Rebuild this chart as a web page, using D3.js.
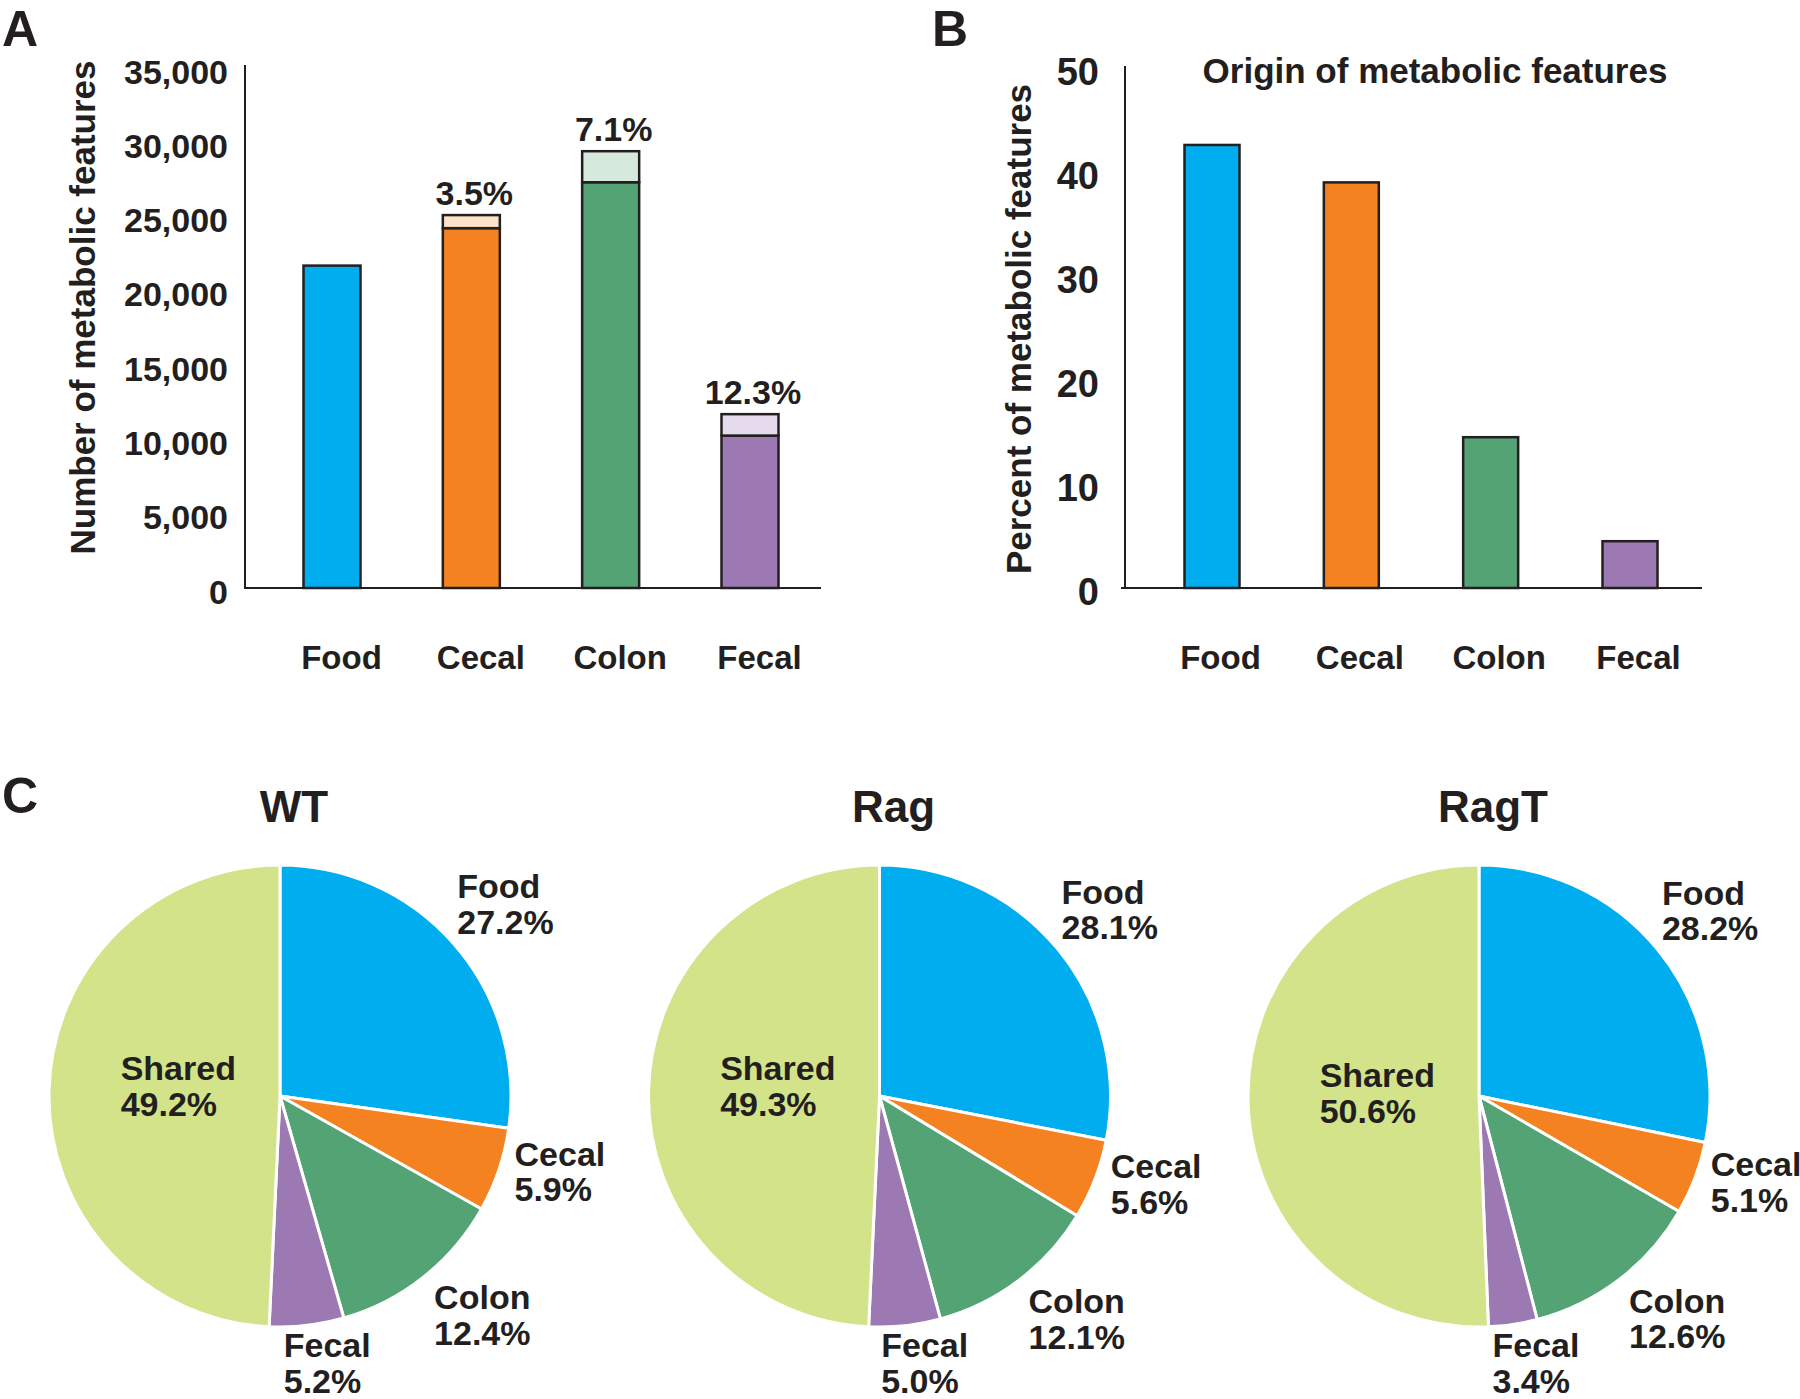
<!DOCTYPE html>
<html>
<head>
<meta charset="utf-8">
<script src="https://cdn.jsdelivr.net/npm/d3@7"></script>
<style>
  html, body { margin: 0; padding: 0; background: #fff; }
  svg { display: block; }
  text { font-family: "Liberation Sans", Arial, Helvetica, sans-serif; font-weight: bold; fill: #231f20; }
</style>
</head>
<body>
<svg id="chart" width="1800" height="1399"></svg>
<script>
// ---------------- DATA ----------------
const categories = ["Food", "Cecal", "Colon", "Fecal"];
// Panel A: number of metabolic features (lower solid part + light upper part)
const baseCounts = [21700, 24220, 27310, 10260];
const topCounts = [0, 880, 2090, 1440];
const topPctLabels = ["", "3.5%", "7.1%", "12.3%"];
const yTicksA = [0, 5000, 10000, 15000, 20000, 25000, 30000, 35000];

// Panel B: percent of metabolic features by origin
const originPct = [42.6, 39.0, 14.5, 4.5];
const yTicksB = [0, 10, 20, 30, 40, 50];

// Panel C: pies
const pieGroups = ["WT", "Rag", "RagT"];
const pieCategories = ["Food", "Cecal", "Colon", "Fecal", "Shared"];
const wtPct = [27.2, 5.9, 12.4, 5.2, 49.2];
const ragPct = [28.1, 5.6, 12.1, 5.0, 49.3];
const ragTPct = [28.2, 5.1, 12.6, 3.4, 50.6];

// ---------------- STYLE ----------------
const solidColors = {Food: "#00aeef", Cecal: "#f58220", Colon: "#54a375", Fecal: "#9d79b4", Shared: "#d3e38a"};
const lightColors = {Food: "#c8ecfb", Cecal: "#fde1c8", Colon: "#d5e9dc", Fecal: "#e6dbed"};
const ink = "#231f20";
const FONT = '"Liberation Sans", Arial, sans-serif';

const svg = d3.select("#chart");
svg.append("rect").attr("width", 1800).attr("height", 1399).attr("fill", "#fff");

// panel letters
[["A", 2, 46], ["B", 932, 46], ["C", 2, 813]].forEach(([t, x, y]) => {
  svg.append("text").attr("x", x).attr("y", y).attr("font-size", 50).text(t);
});

function styleTicks(sel, size, shift) {
  sel.selectAll("text").attr("font-size", size).attr("fill", ink)
    .attr("font-family", FONT).attr("font-weight", "bold")
    .attr("dy", null).attr("dominant-baseline", "central")
    .attr("transform", `translate(0,${shift})`);
}

// ---------------- PANEL A ----------------
(function () {
  const axisX = 245, baseY = 588, topY = 68, endX = 821;
  const y = d3.scaleLinear().domain([0, 35000]).range([baseY, topY]);
  const x = d3.scalePoint().domain(categories).range([332, 750]);
  const bw = 57;
  const g = svg.append("g");

  const yAxis = d3.axisLeft(y).tickValues(yTicksA).tickSize(0).tickPadding(17)
    .tickFormat(d3.format(","));
  const ya = g.append("g").attr("transform", `translate(${axisX},0)`).call(yAxis);
  ya.select(".domain").remove();
  styleTicks(ya, 34, 3);

  g.append("line").attr("x1", axisX).attr("x2", axisX).attr("y1", 65).attr("y2", baseY)
    .attr("stroke", ink).attr("stroke-width", 2);
  g.append("line").attr("x1", axisX - 1).attr("x2", endX).attr("y1", baseY).attr("y2", baseY)
    .attr("stroke", ink).attr("stroke-width", 2);

  const xAxis = d3.axisBottom(x).tickSize(0).tickPadding(58);
  const xa = g.append("g").attr("transform", `translate(9,${baseY})`).call(xAxis);
  xa.select(".domain").remove();
  xa.selectAll("text").attr("font-size", 33).attr("fill", ink)
    .attr("font-family", FONT).attr("font-weight", "bold");

  const data = categories.map((c, i) => ({c, base: baseCounts[i], top: topCounts[i], lab: topPctLabels[i]}));
  g.selectAll("rect.base").data(data).join("rect").attr("class", "base")
    .attr("x", d => x(d.c) - bw / 2).attr("width", bw)
    .attr("y", d => y(d.base)).attr("height", d => y(0) - y(d.base))
    .attr("fill", d => solidColors[d.c]).attr("stroke", ink).attr("stroke-width", 2.5);
  g.selectAll("rect.top").data(data.filter(d => d.top > 0)).join("rect").attr("class", "top")
    .attr("x", d => x(d.c) - bw / 2).attr("width", bw)
    .attr("y", d => y(d.base + d.top)).attr("height", d => y(d.base) - y(d.base + d.top))
    .attr("fill", d => lightColors[d.c]).attr("stroke", ink).attr("stroke-width", 2.5);
  g.selectAll("text.pct").data(data.filter(d => d.lab)).join("text").attr("class", "pct")
    .attr("x", d => x(d.c) + 3).attr("y", d => y(d.base + d.top) - 10)
    .attr("text-anchor", "middle").attr("font-size", 34).text(d => d.lab);

  g.append("text").attr("transform", `translate(95,${(65 + baseY) / 2 - 19}) rotate(-90)`)
    .attr("text-anchor", "middle").attr("font-size", 35).text("Number of metabolic features");
})();

// ---------------- PANEL B ----------------
(function () {
  const axisX = 1125, baseY = 588, topY = 68, endX = 1702;
  const y = d3.scaleLinear().domain([0, 50]).range([baseY, topY]);
  const x = d3.scalePoint().domain(categories).range([1212, 1630]);
  const bw = 55;
  const g = svg.append("g");

  const yAxis = d3.axisLeft(y).tickValues(yTicksB).tickSize(0).tickPadding(26);
  const ya = g.append("g").attr("transform", `translate(${axisX},0)`).call(yAxis);
  ya.select(".domain").remove();
  styleTicks(ya, 38, 3);

  g.append("line").attr("x1", axisX).attr("x2", axisX).attr("y1", 66).attr("y2", baseY)
    .attr("stroke", ink).attr("stroke-width", 2);
  g.append("line").attr("x1", axisX - 4).attr("x2", endX).attr("y1", baseY).attr("y2", baseY)
    .attr("stroke", ink).attr("stroke-width", 2);

  const xAxis = d3.axisBottom(x).tickSize(0).tickPadding(58);
  const xa = g.append("g").attr("transform", `translate(8,${baseY})`).call(xAxis);
  xa.select(".domain").remove();
  xa.selectAll("text").attr("font-size", 33).attr("fill", ink)
    .attr("font-family", FONT).attr("font-weight", "bold");

  const data = categories.map((c, i) => ({c, v: originPct[i]}));
  g.selectAll("rect.bar").data(data).join("rect").attr("class", "bar")
    .attr("x", d => x(d.c) - bw / 2).attr("width", bw)
    .attr("y", d => y(d.v)).attr("height", d => y(0) - y(d.v))
    .attr("fill", d => solidColors[d.c]).attr("stroke", ink).attr("stroke-width", 2.5);

  g.append("text").attr("x", 1435).attr("y", 83).attr("text-anchor", "middle")
    .attr("font-size", 35).text("Origin of metabolic features");

  g.append("text").attr("transform", `translate(1031,${(66 + baseY) / 2 + 2}) rotate(-90)`)
    .attr("text-anchor", "middle").attr("font-size", 35).text("Percent of metabolic features");
})();

// ---------------- PANEL C ----------------
(function () {
  const groupValues = {WT: wtPct, Rag: ragPct, RagT: ragTPct};
  const cxScale = d3.scalePoint().domain(pieGroups).range([280, 1479]);
  const cy = 1096, r = 231;
  const pie = d3.pie().sort(null).value(d => d.v);
  const arc = d3.arc().innerRadius(0).outerRadius(r);
  const lineGap = 35.6;

  pieGroups.forEach(gname => {
    const cx = cxScale(gname);
    const g = svg.append("g").attr("transform", `translate(${cx},${cy})`);
    const arcs = pie(pieCategories.map((c, i) => ({c, v: groupValues[gname][i]})));

    g.selectAll("path").data(arcs).join("path")
      .attr("d", arc).attr("fill", d => solidColors[d.data.c])
      .attr("stroke", "#fff").attr("stroke-width", 3).attr("stroke-linejoin", "round");

    svg.append("text").attr("x", cx + 14).attr("y", 822).attr("text-anchor", "middle")
      .attr("font-size", 44).text(gname);

    arcs.forEach(a => {
      const mid = (a.startAngle + a.endAngle) / 2;
      const s = Math.sin(mid), co = Math.cos(mid);
      let lx, ly;
      if (a.data.c === "Shared") {
        lx = 0.69 * r * s;
        ly = -0.69 * r * co - 6;
      } else {
        lx = r * (1.205 * s - 0.142 + (co < 0 ? 0.16 * co * co * s : 0));
        ly = -1.2 * r * co - 6 - 12 * Math.pow(s, 4) + (co < 0 ? 25 * s * co * co : 0);
        ly = Math.min(ly, 1399 - cy - 36);  // keep the second line inside the picture
      }
      const t = g.append("text").attr("x", lx).attr("y", ly - lineGap / 2)
        .attr("font-size", 34).attr("dominant-baseline", "central");
      t.append("tspan").attr("x", lx).text(a.data.c);
      t.append("tspan").attr("x", lx).attr("dy", lineGap).text(d3.format(".1f")(a.data.v) + "%");
    });
  });
})();
</script>
</body>
</html>
